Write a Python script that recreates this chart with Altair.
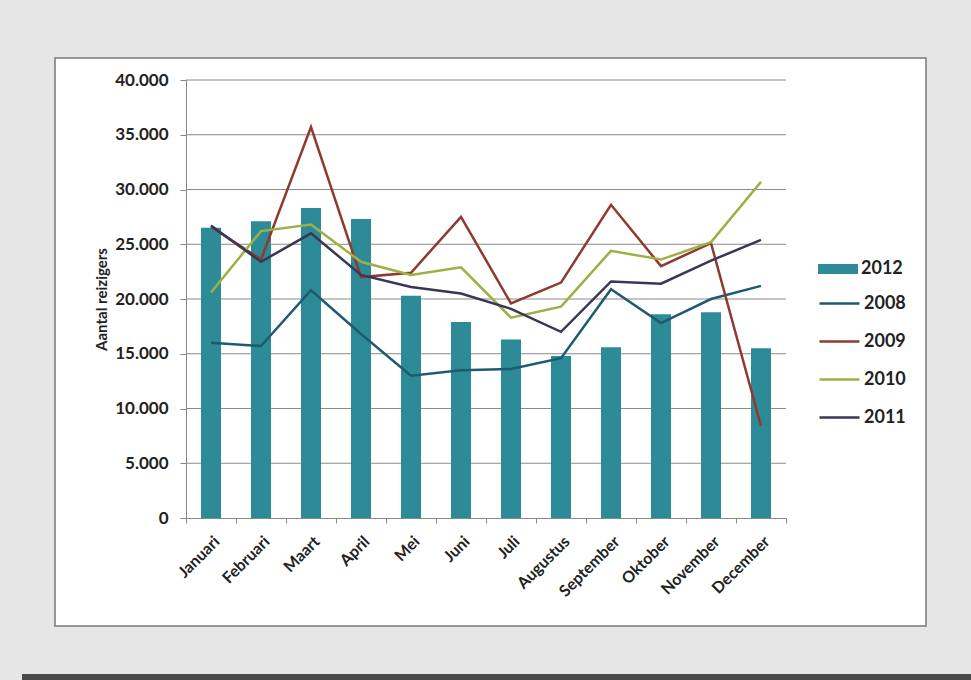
import altair as alt
import pandas as pd

months = ["Januari", "Februari", "Maart", "April", "Mei", "Juni", "Juli",
          "Augustus", "September", "Oktober", "November", "December"]
v2012 = [26500, 27100, 28300, 27300, 20300, 17900, 16300, 14800, 15600, 18600, 18800, 15500]
v2008 = [16000, 15700, 20800, 16800, 13000, 13500, 13600, 14600, 20900, 17800, 20000, 21200]
v2009 = [26600, 23600, 35700, 22000, 22400, 27500, 19600, 21500, 28600, 23000, 25100, 8400]
v2010 = [20600, 26200, 26800, 23400, 22200, 22900, 18300, 19300, 24400, 23600, 25200, 30700]
v2011 = [26700, 23400, 26000, 22200, 21100, 20500, 19100, 17000, 21600, 21400, 23500, 25400]
y_ticks = [0, 5000, 10000, 15000, 20000, 25000, 30000, 35000, 40000]
bar_series = ["2012"]
bar_colors = ["#2C8B96"]
line_series = ["2008", "2009", "2010", "2011"]
line_colors = ["#1F5B70", "#8E3A2E", "#9CB045", "#3D3556"]

bar_df = pd.DataFrame({"maand": months, "reeks": "2012", "waarde": v2012})
line_rows = []
for name, vals in zip(line_series, [v2008, v2009, v2010, v2011]):
    for m, v in zip(months, vals):
        line_rows.append({"maand": m, "reeks": name, "waarde": v})
line_df = pd.DataFrame(line_rows)
grid_df = pd.DataFrame({"waarde": y_ticks[1:]})

FONT = "Lato"

legend_common = dict(
    title=None, orient="none",
    labelFont=FONT, labelFontSize=18, labelFontWeight="bold", labelColor="#222222",
    labelOffset=3,
)
bar_legend = alt.Legend(legendX=632, legendY=169,
                        symbolType="M-1,-0.25H1V0.25H-1Z", symbolSize=1600,
                        symbolStrokeWidth=0, **legend_common)
line_legend = alt.Legend(legendX=632, legendY=202,
                         symbolType="stroke", symbolSize=1600, symbolStrokeWidth=2.5,
                         rowPadding=7, **legend_common)

x_enc = alt.X("maand:N", sort=months, title=None,
              scale=alt.Scale(paddingInner=0, paddingOuter=0),
              axis=alt.Axis(labelAngle=-45, labelFont=FONT, labelFontSize=16,
                            labelFontWeight="bold", labelColor="#222222",
                            labelPadding=10, tickBand="extent", tickSize=5,
                            tickColor="#888888", domainColor="#888888",
                            grid=False, zindex=1))
y_enc = alt.Y("waarde:Q", title="Aantal reizigers",
              scale=alt.Scale(domain=[0, 40000]),
              axis=alt.Axis(values=y_ticks,
                            labelExpr="replace(format(datum.value, ','), ',', '.')",
                            labelFont=FONT, labelFontSize=17, labelFontWeight="bold",
                            labelColor="#222222", labelPadding=12,
                            tickSize=6, tickColor="#888888", domainColor="#888888",
                            grid=False, zindex=1,
                            titleFont=FONT, titleFontSize=15, titleFontWeight="bold",
                            titleColor="#222222", titlePadding=5))

frame = alt.Chart(alt.Data(values=[{}])).mark_rect(
    fill="white", stroke="#7a7a7a", strokeWidth=1.5
).encode(x=alt.value(-131), x2=alt.value(740), y=alt.value(-22), y2=alt.value(546))

band = alt.Chart(alt.Data(values=[{}])).mark_rect(fill="#4a4a4a").encode(
    x=alt.value(-164), x2=alt.value(785), y=alt.value(594), y2=alt.value(600))

grid = alt.Chart(grid_df).mark_rule(color="#8a8a8a", strokeWidth=1).encode(
    y=alt.Y("waarde:Q"), x=alt.value(0), x2=alt.value(600))

bars = alt.Chart(bar_df).mark_bar(size=20).encode(
    x=x_enc, y=y_enc,
    fill=alt.Fill("reeks:N", scale=alt.Scale(domain=bar_series, range=bar_colors),
                  legend=bar_legend),
)

lines = alt.Chart(line_df).mark_line(strokeWidth=2.5).encode(
    x=alt.X("maand:N", sort=months),
    y=alt.Y("waarde:Q"),
    stroke=alt.Stroke("reeks:N", scale=alt.Scale(domain=line_series, range=line_colors),
                      legend=line_legend),
)

chart = alt.layer(frame, band, grid, bars, lines).properties(
    width=600, height=438,
    background="#e6e6e6",
    padding={"left": 186, "top": 80, "right": 185, "bottom": 162},
    autosize=alt.AutoSizeParams(type="none"),
).configure_view(stroke=None)

chart.save("out.html", embed_options={"renderer": "svg", "actions": False})
